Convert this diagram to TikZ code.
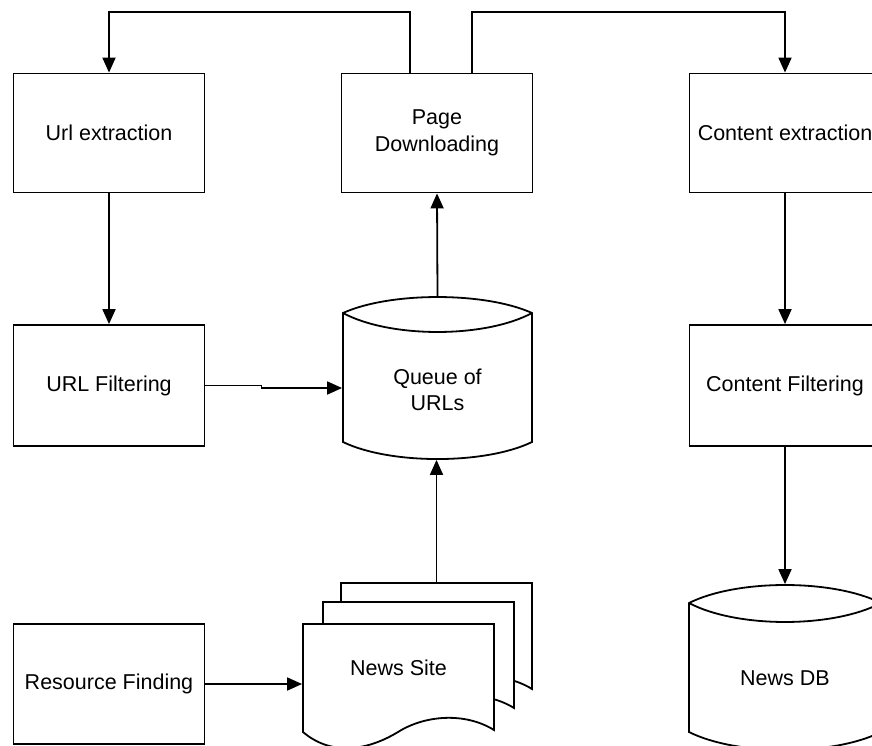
\documentclass[tikz,border=0pt]{standalone}
\usepackage{fontspec}
\setmainfont{Liberation Sans}
\usetikzlibrary{arrows.meta}
\newcommand{\docpath}{(303,624) -- (494,624) -- (494,730) .. controls (465,712) and (425,715) .. (398,732) .. controls (365,752) and (330,755) .. (303,732) -- cycle}
\begin{document}
\begin{tikzpicture}[x=1pt,y=-1pt,
  line width=1.8pt,
  txt/.style={font=\fontsize{21.5}{26.5}\selectfont},
  box/.style={draw, rectangle, minimum width=191pt, minimum height=119pt, inner sep=0pt, align=center, txt},
  ghost/.style={rectangle, inner sep=0pt},
  lbl/.style={align=center, inner sep=0pt, txt},
  arr/.style={-{Triangle[length=15pt,width=13pt]}},
  shapefill/.style={fill=white, draw=black}
]
\useasboundingbox (0,0) rectangle (872,745);
\fill[white] (0,0) rectangle (872,745);
\clip (0,0) rectangle (872,745);

% boxes
\node[box] (url)   at (109,133) {Url extraction};
\node[box] (page)  at (437,133) {Page\\Downloading};
\node[box] (cext)  at (785,133) {Content extraction};
\node[box, minimum height=121pt] (ufilt) at (109,385.5) {URL Filtering};
\node[box, minimum height=121pt] (cfilt) at (785,385.5) {Content Filtering};
\node[box, minimum height=120pt] (res)   at (109,684) {Resource Finding};

% queue cylinder
\node[ghost, minimum width=189pt, minimum height=162pt] (queue) at (437.5,378) {};
\filldraw[shapefill] (343,313) .. controls (390,291.7) and (485,291.7) .. (532,313)
  -- (532,442) .. controls (485,464.7) and (390,464.7) .. (343,442) -- cycle;
\draw (343,313) .. controls (390,338.3) and (485,338.3) .. (532,313);
\node[lbl] (qlbl) at (437.5,390) {Queue of\\URLs};

% news DB cylinder
\node[ghost, minimum width=192pt, minimum height=175pt] (db) at (785,672.5) {};
\filldraw[shapefill] (689,603) .. controls (737,579) and (833,579) .. (881,603)
  -- (881,732) .. controls (833,756) and (737,756) .. (689,732) -- cycle;
\draw (689,603) .. controls (737,628.3) and (833,628.3) .. (881,603);
\node[lbl] (dblbl) at (785,678) {News DB};

% news site document stack
\begin{scope}[shift={(38,-41)}]
  \filldraw[shapefill] \docpath;
\end{scope}
\begin{scope}[shift={(20,-22)}]
  \filldraw[shapefill] \docpath;
\end{scope}
\filldraw[shapefill] \docpath;
\node[ghost, minimum width=191pt, minimum height=161pt] (news3) at (436.5,663.5) {};
\node[ghost, minimum width=191pt, minimum height=120pt] (news) at (398.5,684) {};
\node[lbl] (nlbl) at (398.5,668) {News Site};

% connectors
\coordinate (t1) at (410,12);
\coordinate (t2) at (472,12);
\draw[arr] ([xshift=-27pt]page.north) -- (t1) -| (url.north);
\draw[arr] ([xshift=35pt]page.north) -- (t2) -| (cext.north);
\draw[arr] (url.south) -- (ufilt.north);
\draw[arr] (cext.south) -- (cfilt.north);
\draw[arr] (cfilt.south) -- (db.north);
\draw[arr] (queue.north) -- (page.south);
\draw[arr] (news3.north) -- (news3.north |- queue.south);
\draw[arr] (ufilt.east) -- ++(56,0) -- ++(0,2.5) -- ([yshift=-10pt]queue.west);
\draw[arr] (res.east) -- (news.west);
\end{tikzpicture}
\end{document}
